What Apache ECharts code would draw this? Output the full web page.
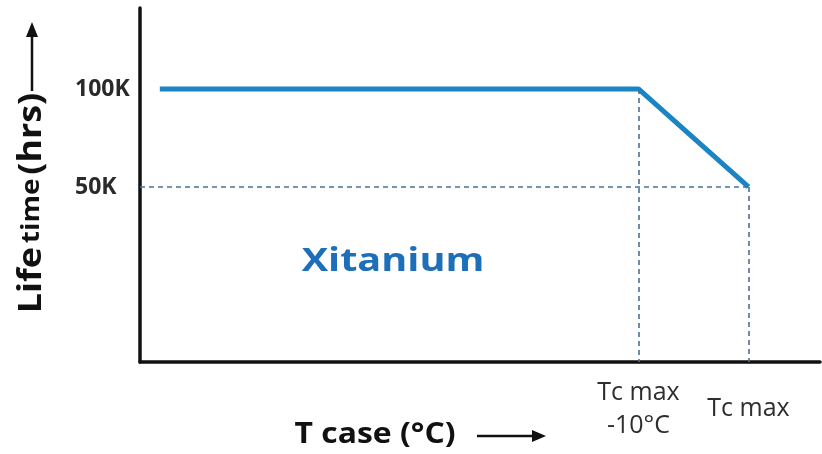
<!DOCTYPE html>
<html>
<head>
<meta charset="utf-8">
<script src="https://cdn.jsdelivr.net/npm/echarts@6/dist/echarts.min.js"></script>
<style>
  html, body { margin: 0; padding: 0; background: #fff; }
  #chart { width: 822px; height: 454px; }
</style>
</head>
<body>
<div id="chart"></div>
<script>
  // case temperature, relative to Tc max (°C)
  const caseTemps = [-53.5, -10, 0]
  // life time in thousands of hours
  const lifeHours = [100, 100, 50]
  // tick labels
  const xTickValues = [-10, 0]
  const xTickLabels = ['Tc max\n-10°C', 'Tc max']
  const yTickValues = [50, 100]

  const xMin = -55.3
  const xMax = 6.5
  const yMin = -39.3
  const yMax = 141.3

  const lineColor = '#1b84c4'
  const dashColor = '#46729a'

  const chart = echarts.init(document.getElementById('chart'))

  const option = {
    animation: false,
    grid: { left: 140, right: 2, top: 8, bottom: 92 },
    xAxis: {
      type: 'value',
      min: xMin,
      max: xMax,
      splitLine: { show: false },
      axisTick: { show: false },
      axisLine: { onZero: false, lineStyle: { color: '#111', width: 3.5 } },
      axisLabel: {
        customValues: xTickValues,
        formatter: v => xTickLabels[xTickValues.indexOf(v)],
        fontFamily: 'Open Sans',
        fontSize: 25,
        lineHeight: 33,
        color: '#2e2e2e',
        verticalAlign: 'middle',
        margin: 47
      }
    },
    yAxis: {
      type: 'value',
      min: yMin,
      max: yMax,
      splitLine: { show: false },
      axisTick: { show: false },
      axisLine: { onZero: false, lineStyle: { color: '#111', width: 3.5 } },
      axisLabel: {
        customValues: yTickValues,
        formatter: v => v + 'K',
        fontFamily: 'Open Sans',
        fontWeight: 'bold',
        fontSize: 23,
        color: '#2a2a2a',
        align: 'left',
        verticalAlign: 'middle',
        margin: 65
      }
    },
    series: [{
      type: 'line',
      data: caseTemps.map((t, i) => [t, lifeHours[i]]),
      showSymbol: false,
      lineStyle: { color: lineColor, width: 5 },
      markLine: {
        silent: true,
        symbol: 'none',
        label: { show: false },
        lineStyle: { color: dashColor, type: [5, 4], width: 1.6 },
        data: [
          [{ coord: [xMin, lifeHours[2]] }, { coord: [caseTemps[2], lifeHours[2]] }],
          [{ coord: [caseTemps[1], lifeHours[1]] }, { coord: [caseTemps[1], yMin] }],
          [{ coord: [caseTemps[2], lifeHours[2]] }, { coord: [caseTemps[2], yMin] }]
        ]
      }
    }],
    graphic: [
      {
        type: 'text',
        x: 393, y: 262,
        scaleX: 1.2,
        style: {
          text: 'Xitanium',
          fill: '#1c6fb8',
          font: 'bold 33px "Open Sans"',
          align: 'center',
          verticalAlign: 'middle'
        }
      },
      {
        type: 'text',
        x: 32, y: 203,
        rotation: Math.PI / 2,
        scaleX: 1.12,
        style: {
          text: '{a|Life} {b|time} {a|(hrs)}',
          fill: '#111',
          align: 'center',
          verticalAlign: 'middle',
          rich: {
            a: { font: 'bold 32px "Open Sans"', fill: '#111' },
            b: { font: 'bold 25px "Open Sans"', fill: '#111' }
          }
        }
      },
      {
        type: 'line',
        shape: { x1: 32, y1: 91, x2: 32, y2: 34 },
        style: { stroke: '#111', lineWidth: 2.5 }
      },
      {
        type: 'polygon',
        shape: { points: [[26, 37], [38, 37], [32, 22]] },
        style: { fill: '#111' }
      },
      {
        type: 'text',
        x: 375, y: 435,
        scaleX: 1.1,
        style: {
          text: 'T case (°C)',
          fill: '#111',
          font: 'bold 29px "Open Sans"',
          align: 'center',
          verticalAlign: 'middle'
        }
      },
      {
        type: 'line',
        shape: { x1: 477, y1: 436, x2: 536, y2: 436 },
        style: { stroke: '#111', lineWidth: 2.5 }
      },
      {
        type: 'polygon',
        shape: { points: [[532, 430], [532, 442], [546, 436]] },
        style: { fill: '#111' }
      }
    ]
  }

  chart.setOption(option)
</script>
</body>
</html>
